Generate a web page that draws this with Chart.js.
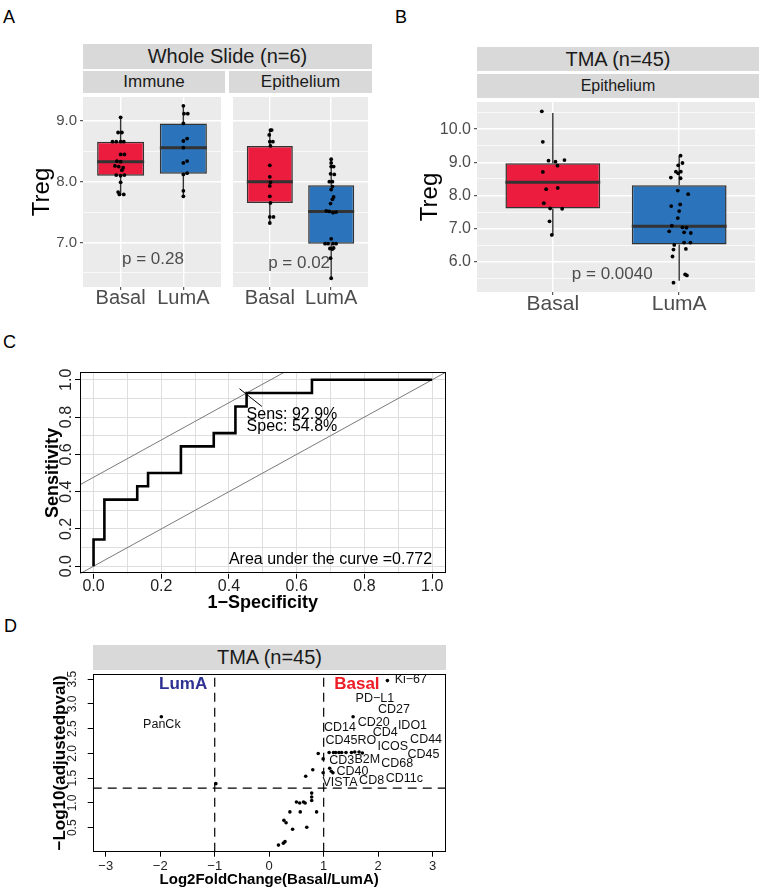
<!DOCTYPE html>
<html>
<head>
<meta charset="utf-8">
<script src="https://cdn.jsdelivr.net/npm/chart.js@4"></script>
<style>
  body { margin:0; background:#fff; width:760px; height:896px; position:relative; overflow:hidden;
         font-family:"Liberation Sans", Arial, Helvetica, sans-serif; }
  .letter { position:absolute; font-size:18px; line-height:1; color:#000; }
  .strip { position:absolute; background:#D9D9D9; color:#1A1A1A; text-align:center; white-space:nowrap; }
  canvas { position:absolute; }
</style>
</head>
<body>
<div class="letter" style="left:3px;top:8px">A</div>
<div class="letter" style="left:395px;top:8px">B</div>
<div class="letter" style="left:3px;top:333px">C</div>
<div class="letter" style="left:4px;top:617px">D</div>

<div class="strip" style="left:83px;top:44px;width:289px;height:25px;line-height:25px;font-size:20px">Whole Slide (n=6)</div>
<div class="strip" style="left:83px;top:71px;width:142px;height:22px;line-height:22px;font-size:17px">Immune</div>
<div class="strip" style="left:229px;top:71px;width:143px;height:22px;line-height:22px;font-size:17px">Epithelium</div>

<div class="strip" style="left:477px;top:47px;width:282px;height:24px;line-height:24px;font-size:20px">TMA (n=45)</div>
<div class="strip" style="left:477px;top:74px;width:282px;height:24px;line-height:24px;font-size:16px">Epithelium</div>

<div class="strip" style="left:93px;top:645px;width:353px;height:25px;line-height:25px;font-size:20px">TMA (n=45)</div>

<canvas id="a1" width="225" height="222" style="left:0px;top:93px"></canvas>
<canvas id="a2" width="143" height="222" style="left:229px;top:93px"></canvas>
<canvas id="b1" width="379" height="222" style="left:380px;top:98px"></canvas>
<canvas id="c1" width="450" height="255" style="left:0px;top:360px"></canvas>
<canvas id="d1" width="450" height="222" style="left:0px;top:670px"></canvas>

<script>
// ---------------- DATA ----------------
const groups = ['Basal', 'LumA'];

// box statistics: [lower whisker, Q1, median, Q3, upper whisker]
const immuneBasalBox = [7.78, 8.10, 8.33, 8.66, 9.06];
const immuneLumABox  = [7.76, 8.13, 8.56, 8.96, 9.25];
const epiBasalBox    = [7.32, 7.65, 8.00, 8.59, 8.85];
const epiLumABox     = [6.41, 6.98, 7.51, 7.94, 8.37];
const tmaBasalBox    = [6.81, 7.61, 8.40, 8.97, 10.49];
const tmaLumABox     = [5.43, 6.52, 7.07, 8.31, 9.20];

// jittered observations (values) and their horizontal jitter (category units)
const immuneBasalPts = [9.06, 8.81, 8.81, 8.66, 8.66, 8.66, 8.66, 8.45, 8.45, 8.34, 8.33, 8.26, 8.25, 8.23, 8.19, 8.11, 8.10, 8.11, 7.99, 7.83, 7.79, 7.79];
const immuneBasalJit = [0, -0.04, 0.02, -0.13, -0.07, 0, 0.05, 0, 0.06, -0.06, 0, -0.09, -0.03, 0.04, 0.02, -0.07, 0, 0.06, 0, -0.04, -0.02, 0.05];
const immuneLumAPts  = [9.25, 9.12, 9.12, 8.96, 8.71, 8.67, 8.56, 8.34, 8.31, 8.14, 8.12, 7.85, 7.76];
const immuneLumAJit  = [0, 0.01, 0.07, 0, 0.06, 0, 0, 0.06, 0, 0.06, 0, 0, 0];
const epiBasalPts    = [8.85, 8.85, 8.77, 8.66, 8.66, 8.59, 8.27, 8.08, 7.99, 7.93, 7.76, 7.65, 7.42, 7.42, 7.32];
const epiBasalJit    = [0.01, 0.03, -0.01, 0.05, 0, 0.01, 0, 0, 0.01, 0, 0, 0.01, 0, 0.06, 0];
const epiLumAPts     = [8.37, 8.31, 8.25, 8.25, 8.13, 8.12, 8.00, 8.00, 7.92, 7.87, 7.75, 7.71, 7.64, 7.52, 7.51, 7.49, 7.50, 7.06, 6.98, 6.98, 6.98, 6.98, 6.90, 6.91, 6.89, 6.74, 6.41];
const epiLumAJit     = [0, 0, 0, 0.04, -0.01, 0.05, 0.02, -0.03, 0.02, 0, 0.04, 0.02, -0.01, -0.08, -0.03, 0.03, 0.08, 0, -0.10, -0.05, 0.03, 0.08, -0.02, 0.04, 0.02, -0.01, 0];
const tmaBasalPts    = [10.54, 9.62, 9.05, 9.02, 9.07, 8.90, 8.71, 8.19, 8.23, 7.77, 7.61, 7.60, 7.22, 6.81];
const tmaBasalJit    = [-0.087, -0.079, -0.034, 0.021, 0.092, 0.037, -0.079, -0.053, 0.039, -0.071, -0.021, 0.074, -0.026, -0.008];
const tmaLumAPts     = [9.20, 8.98, 8.91, 8.72, 8.67, 8.72, 8.54, 8.52, 8.15, 8.04, 7.68, 7.73, 7.53, 7.32, 7.09, 7.04, 7.03, 6.92, 6.89, 6.87, 6.58, 6.58, 6.51, 6.39, 6.37, 6.16, 5.62, 5.59, 5.37];
const tmaLumAJit     = [0.011, 0.026, -0.008, -0.026, -0.008, 0.013, -0.066, 0.011, -0.011, 0.071, -0.063, 0.008, 0, -0.011, -0.058, 0.026, 0.058, -0.079, 0.039, 0.092, 0.039, 0.089, -0.039, 0.053, -0.045, -0.053, 0.047, 0.061, -0.045];

const yTicksA = [6.5, 7, 7.5, 8, 8.5, 9];
const yTicksB = [5.5, 6, 6.5, 7, 7.5, 8, 8.5, 9, 9.5, 10, 10.5];
const pImmune = 'p = 0.28';
const pEpi    = 'p = 0.02';
const pTMA    = 'p = 0.0040';

// ROC curve (1-specificity, sensitivity)
const rocFPR = [0, 0, 0.032, 0.032, 0.129, 0.129, 0.161, 0.161, 0.258, 0.258, 0.355, 0.355, 0.419, 0.419, 0.452, 0.452, 0.645, 0.645, 1.0];
const rocTPR = [0, 0.143, 0.143, 0.357, 0.357, 0.429, 0.429, 0.5, 0.5, 0.643, 0.643, 0.714, 0.714, 0.857, 0.857, 0.929, 0.929, 1.0, 1.0];
const bestSens = 0.929;
const bestSpec = 0.548;
const rocAUC = 0.772;
const rocTicks = [0, 0.2, 0.4, 0.6, 0.8, 1.0];
const rocGrid = [0, 0.1, 0.2, 0.3, 0.4, 0.5, 0.6, 0.7, 0.8, 0.9, 1.0];

// Volcano
const volLog2FC = [2.17, -1.98, -0.98, 1.54, 0.90, 1.10, 1.18, 1.22, 1.28, 1.33, 1.41, 1.51, 1.57, 1.65, 1.71,
                   0.99, 0.80, 0.99, 1.11, 1.14, 1.17, 0.67,
                   0.78, 0.78, 0.78, 0.50, 0.56, 0.63, 0.66, 0.38, 0.57, 0.87, 0.27, 0.31, 0.43, 0.69, 0.17, 0.26, 0.29];
const volNegLogP = [3.47, 2.74, 1.39, 2.74, 2.00, 2.02, 2.02, 2.02, 2.02, 2.02, 2.02, 2.02, 2.03, 2.03, 2.01,
                    1.89, 1.67, 1.61, 1.70, 1.64, 1.61, 1.54,
                    1.20, 1.12, 1.05, 1.02, 1.00, 1.02, 1.00, 0.82, 0.82, 0.82, 0.65, 0.60, 0.47, 0.51, 0.15, 0.19, 0.22];
const geneNames = ['Ki\u221267', 'PD\u2212L1', 'CD27', 'CD20', 'IDO1', 'CD14', 'CD4', 'CD45RO', 'CD44', 'ICOS', 'CD45',
                   'CD3', 'B2M', 'CD68', 'CD40', 'VISTA', 'CD8', 'CD11c', 'PanCk'];
const volXTicks = [-3, -2, -1, 0, 1, 2, 3];
const volYTicks = [0.5, 1.0, 1.5, 2.0, 2.5, 3.0, 3.5];
const fcCut = 1;
const pCut = 1.301;

// ---------------- STYLE / HELPERS ----------------
const FONT = '"Liberation Sans", Arial, Helvetica, sans-serif';
Chart.defaults.font.family = FONT;
const RED = '#EC1C3F', BLUE = '#2B74BC';
const BOX_W = 0.75;

function bgPlugin(color) {
  return { id: 'bg', beforeDraw(chart) {
    const a = chart.chartArea, ctx = chart.ctx;
    ctx.save(); ctx.fillStyle = color; ctx.fillRect(a.left, a.top, a.right - a.left, a.bottom - a.top); ctx.restore();
  }};
}
function framePlugin() {
  return { id: 'frame', afterDraw(chart) {
    const a = chart.chartArea, ctx = chart.ctx;
    ctx.save(); ctx.strokeStyle = '#000'; ctx.lineWidth = 1;
    ctx.strokeRect(Math.round(a.left) + 0.5, Math.round(a.top) + 0.5, Math.round(a.right - a.left) - 1, Math.round(a.bottom - a.top) - 1);
    ctx.restore();
  }};
}
function textPlugin(items) {
  return { id: 'texts', afterDatasetsDraw(chart) {
    const ctx = chart.ctx, xs = chart.scales.x, ys = chart.scales.y;
    ctx.save();
    for (const it of items) {
      ctx.font = it.font; ctx.fillStyle = it.color || '#000';
      ctx.textAlign = it.align || 'center'; ctx.textBaseline = 'middle';
      ctx.fillText(it.text, xs.getPixelForValue(it.x), ys.getPixelForValue(it.y));
    }
    ctx.restore();
  }};
}
function noPad(s) { s.paddingLeft = 0; s.paddingRight = 0; s.paddingTop = 0; s.paddingBottom = 0; }
const fixW = w => (s => { s.width = w; noPad(s); });
const fixH = h => (s => { s.height = h; noPad(s); });
const setTicks = arr => (s => { s.ticks = arr.map(v => ({ value: v })); });

function boxDatasets(boxes, pts, jits) {
  const whisk = [], med = [], bars = [], dots = [];
  boxes.forEach((b, i) => {
    const x = i + 1;
    whisk.push({x, y: b[3]}, {x, y: b[4]}, {x, y: null}, {x, y: b[1]}, {x, y: b[0]}, {x, y: null});
    med.push({x: x - BOX_W / 2, y: b[2]}, {x: x + BOX_W / 2, y: b[2]}, {x, y: null});
    bars.push({x, y: [b[1], b[3]]});
    pts[i].forEach((v, k) => dots.push({x: x + jits[i][k], y: v}));
  });
  return [
    { type: 'scatter', data: dots, pointRadius: 1.9, pointBackgroundColor: '#000', pointBorderWidth: 0, order: 0 },
    { type: 'scatter', data: med, showLine: true, spanGaps: false, borderColor: '#333', borderWidth: 3, pointRadius: 0, order: 1 },
    { type: 'bar', data: bars, backgroundColor: [RED, BLUE], borderColor: '#333', borderWidth: 1.5,
      borderSkipped: false, grouped: false, barPercentage: BOX_W, categoryPercentage: 1, order: 2 },
    { type: 'scatter', data: whisk, showLine: true, spanGaps: false, borderColor: '#333', borderWidth: 1.4, pointRadius: 0, order: 3 }
  ];
}

function ggBox(id, cfg) {
  const isMajor = v => Math.abs(v - Math.round(v)) < 1e-6;
  new Chart(document.getElementById(id), {
    type: 'scatter',
    data: { datasets: boxDatasets(cfg.boxes, cfg.pts, cfg.jits) },
    options: {
      responsive: false, animation: false, devicePixelRatio: 1,
      layout: { padding: 0 },
      plugins: { legend: { display: false }, tooltip: { enabled: false } },
      scales: {
        x: {
          type: 'linear', min: 0.4, max: 2.6, offset: false,
          afterBuildTicks: setTicks([1, 2]), afterFit: fixH(28),
          border: { display: false },
          grid: { color: '#FFFFFF', lineWidth: 1.4, tickColor: '#333', tickLength: 3, tickWidth: 1, offset: false },
          ticks: { color: '#4D4D4D', font: { size: cfg.xFont }, padding: cfg.xPad, maxRotation: 0, autoSkip: false,
                   callback: v => groups[Math.round(v) - 1] }
        },
        y: {
          type: 'linear', min: cfg.yMin, max: cfg.yMax,
          afterBuildTicks: setTicks(cfg.yTicks), afterFit: fixW(cfg.yW),
          border: { display: false },
          grid: { color: '#FFFFFF', lineWidth: c => isMajor(c.tick.value) ? 1.4 : 0.7,
                  tickColor: c => (cfg.showY && isMajor(c.tick.value)) ? '#333' : 'rgba(0,0,0,0)',
                  drawTicks: cfg.showY, tickLength: 3, tickWidth: 1 },
          ticks: { display: cfg.showY, color: '#4D4D4D', font: { size: cfg.yFont }, padding: 3, autoSkip: false,
                   callback: v => isMajor(v) ? v.toFixed(1) : '' },
          title: { display: cfg.showY, text: 'Treg', color: '#000', font: { size: 24 },
                   padding: { top: cfg.titlePad, bottom: 0 } }
        }
      }
    },
    plugins: [bgPlugin('#EBEBEB'), textPlugin(cfg.texts)]
  });
}

// ---------------- PANEL A ----------------
const yMinA = 6.266, yMaxA = 9.395;
ggBox('a1', { boxes: [immuneBasalBox, immuneLumABox], pts: [immuneBasalPts, immuneLumAPts], jits: [immuneBasalJit, immuneLumAJit],
  yMin: yMinA, yMax: yMaxA, yTicks: yTicksA, yW: 83, showY: true, yFont: 15, xFont: 20, xPad: -4, titlePad: 28,
  texts: [{ text: pImmune, x: 1.516, y: 6.72, font: '17px ' + FONT, color: '#4D4D4D' }] });
ggBox('a2', { boxes: [epiBasalBox, epiLumABox], pts: [epiBasalPts, epiLumAPts], jits: [epiBasalJit, epiLumAJit],
  yMin: yMinA, yMax: yMaxA, yTicks: yTicksA, yW: 0, showY: false, yFont: 15, xFont: 20, xPad: -4, titlePad: 0,
  texts: [{ text: pEpi, x: 1.477, y: 6.65, font: '17px ' + FONT, color: '#4D4D4D' }] });

// ---------------- PANEL B ----------------
ggBox('b1', { boxes: [tmaBasalBox, tmaLumABox], pts: [tmaBasalPts, tmaLumAPts], jits: [tmaBasalJit, tmaLumAJit],
  yMin: 5.09, yMax: 10.82, yTicks: yTicksB, yW: 97, showY: true, yFont: 16, xFont: 21, xPad: -3, titlePad: 35.6,
  texts: [{ text: pTMA, x: 1.47, y: 5.63, font: '17px ' + FONT, color: '#4D4D4D' }] });

// ---------------- PANEL C (ROC) ----------------
(function () {
  const lo = -0.04, hi = 1.04;
  const off = bestSens - (1 - bestSpec);          // intercept of line through best threshold, slope 1
  const bx = 1 - bestSpec, by = bestSens;
  const roc = rocFPR.map((f, i) => ({ x: f, y: rocTPR[i] }));
  new Chart(document.getElementById('c1'), {
    type: 'scatter',
    data: { datasets: [
      { data: roc, showLine: true, borderColor: '#000', borderWidth: 2.6, pointRadius: 0, order: 0 },
      { data: [{x: lo, y: lo}, {x: hi, y: hi}], showLine: true, borderColor: '#7A7A7A', borderWidth: 1, pointRadius: 0, order: 2 },
      { data: [{x: lo, y: lo + off}, {x: hi, y: hi + off}], showLine: true, borderColor: '#7A7A7A', borderWidth: 1, pointRadius: 0, order: 2 },
      { data: [{x: bx - 0.021, y: by + 0.023}, {x: bx + 0.045, y: by - 0.072}], showLine: true, borderColor: '#000', borderWidth: 1, pointRadius: 0, order: 1 }
    ]},
    options: {
      responsive: false, animation: false, devicePixelRatio: 1,
      layout: { padding: { top: 12.3, right: 4.3, bottom: 0, left: 0 } },
      plugins: { legend: { display: false }, tooltip: { enabled: false } },
      scales: {
        x: {
          type: 'linear', min: lo, max: hi, position: 'bottom', weight: 1,
          afterBuildTicks: setTicks(rocTicks), afterFit: fixH(41.3),
          border: { display: false },
          grid: { drawOnChartArea: false, tickColor: '#000', tickLength: 5, tickWidth: 1 },
          ticks: { color: '#222', font: { size: 16 }, padding: -1.6, maxRotation: 0, autoSkip: false, callback: v => v.toFixed(1) },
          title: { display: true, text: '1\u2212Specificity', color: '#000', font: { size: 18, weight: 'bold' }, padding: { top: 0, bottom: 1.2 } }
        },
        xg: {
          type: 'linear', min: lo, max: hi, position: 'bottom', weight: 0,
          afterBuildTicks: setTicks(rocGrid), afterFit: fixH(0),
          border: { display: false }, ticks: { display: false },
          grid: { color: '#DEDEDE', lineWidth: 1, drawTicks: false }
        },
        y: {
          type: 'linear', min: lo, max: hi, position: 'left', weight: 1,
          afterBuildTicks: setTicks(rocTicks), afterFit: fixW(80),
          border: { display: false },
          grid: { drawOnChartArea: false, tickColor: '#000', tickLength: 5, tickWidth: 1 },
          ticks: { color: '#222', font: { size: 16 }, padding: -2.8, minRotation: 90, maxRotation: 90, crossAlign: 'center',
                   autoSkip: false, callback: v => v.toFixed(1) },
          title: { display: true, text: 'Sensitivity', color: '#000', font: { size: 18, weight: 'bold' }, padding: { top: 42.2, bottom: 0 } }
        },
        yg: {
          type: 'linear', min: lo, max: hi, position: 'left', weight: 0,
          afterBuildTicks: setTicks(rocGrid), afterFit: fixW(0),
          border: { display: false }, ticks: { display: false },
          grid: { color: '#DEDEDE', lineWidth: 1, drawTicks: false }
        }
      }
    },
    plugins: [framePlugin(), textPlugin([
      { text: 'Sens: ' + (bestSens * 100).toFixed(1) + '%', x: bx, y: 0.8125, font: '16px ' + FONT, align: 'left' },
      { text: 'Spec: ' + (bestSpec * 100).toFixed(1) + '%', x: bx, y: 0.75, font: '16px ' + FONT, align: 'left' },
      { text: 'Area under the curve =' + rocAUC.toFixed(3), x: 1.0, y: 0.036, font: '16px ' + FONT, align: 'right' }
    ])]
  });
})();

// ---------------- PANEL D (Volcano) ----------------
(function () {
  const xlo = -3.24, xhi = 3.24, ylo = 0.017, yhi = 3.603;
  const pts = volLog2FC.map((v, i) => ({ x: v, y: volNegLogP[i] }));
  const geneLabelPos = [[2.60, 3.49], [1.94, 3.11], [2.29, 2.89], [1.92, 2.62], [2.63, 2.57], [1.30, 2.52], [2.13, 2.42],
    [1.50, 2.25], [2.88, 2.29], [2.27, 2.14], [2.83, 1.97], [1.33, 1.85], [1.80, 1.87], [2.35, 1.79], [1.53, 1.63],
    [1.30, 1.42], [1.88, 1.45], [2.48, 1.49], [-1.97, 2.59]];
  const labels = geneNames.map((g, i) => ({ text: g, x: geneLabelPos[i][0], y: geneLabelPos[i][1], font: '12.5px ' + FONT, color: '#111' }));
  labels.push({ text: 'LumA', x: -1.58, y: 3.39, font: 'bold 17px ' + FONT, color: '#2E3192' });
  labels.push({ text: 'Basal', x: 1.61, y: 3.39, font: 'bold 17px ' + FONT, color: '#EE1C25' });
  const dash = [9, 6];
  new Chart(document.getElementById('d1'), {
    type: 'scatter',
    data: { datasets: [
      { data: pts, pointRadius: 1.8, pointBackgroundColor: '#000', pointBorderWidth: 0, order: 0 },
      { data: [{x: -fcCut, y: ylo}, {x: -fcCut, y: yhi}, {x: 0, y: null}, {x: fcCut, y: ylo}, {x: fcCut, y: yhi}],
        showLine: true, spanGaps: false, borderColor: '#000', borderWidth: 1.2, borderDash: dash, pointRadius: 0, order: 1 },
      { data: [{x: xlo, y: pCut}, {x: xhi, y: pCut}], showLine: true, borderColor: '#000', borderWidth: 1.2, borderDash: dash, pointRadius: 0, order: 1 }
    ]},
    options: {
      responsive: false, animation: false, devicePixelRatio: 1,
      layout: { padding: { top: 2.7, right: 4.3, bottom: 0, left: 0 } },
      plugins: { legend: { display: false }, tooltip: { enabled: false } },
      scales: {
        x: {
          type: 'linear', min: xlo, max: xhi,
          afterBuildTicks: setTicks(volXTicks), afterFit: fixH(40.3),
          border: { display: false },
          grid: { drawOnChartArea: false, tickColor: '#000', tickLength: 5, tickWidth: 1 },
          ticks: { color: '#222', font: { size: 13 }, padding: 1.5, maxRotation: 0, autoSkip: false,
                   callback: v => String(v).replace('-', '\u2212') },
          title: { display: true, text: 'Log2FoldChange(Basal/LumA)', color: '#000', font: { size: 15, weight: 'bold' }, padding: { top: 0, bottom: 3 } }
        },
        y: {
          type: 'linear', min: ylo, max: yhi,
          afterBuildTicks: setTicks(volYTicks), afterFit: fixW(92.7),
          border: { display: false },
          grid: { drawOnChartArea: false, tickColor: '#000', tickLength: 5, tickWidth: 1 },
          ticks: { color: '#222', font: { size: 12 }, padding: 6.9, minRotation: 90, maxRotation: 90, crossAlign: 'center',
                   autoSkip: false, callback: v => v.toFixed(1) },
          title: { display: true, text: '\u2212Log10(adjustedpval)', color: '#000', font: { size: 17, weight: 'bold' }, padding: { top: 49.8, bottom: 0 } }
        }
      }
    },
    plugins: [framePlugin(), textPlugin(labels)]
  });
})();
</script>
</body>
</html>
